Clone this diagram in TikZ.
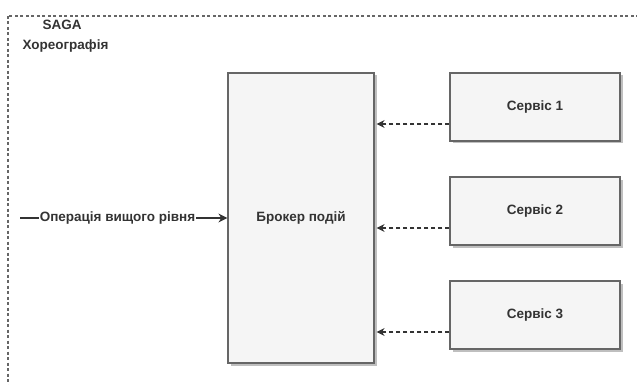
\documentclass[tikz,border=0pt]{standalone}
\usepackage{fontspec}
\setmainfont{Liberation Sans}
\usetikzlibrary{arrows.meta,shadows}

\definecolor{txtgray}{HTML}{333333}
\definecolor{boxfill}{HTML}{F5F5F5}
\definecolor{boxline}{HTML}{666666}

\tikzset{
  lbl/.style={font=\bfseries\fontsize{13.5}{16}\selectfont, text=txtgray},
  box/.style={draw=boxline, fill=boxfill, line width=1.2pt, inner sep=0pt,
    drop shadow={shadow xshift=2.5pt, shadow yshift=-2.5pt, fill=black!25, opacity=1}, lbl},
  evt/.style={draw=txtgray, line width=1.2pt, dash pattern=on 4pt off 3pt, -{Stealth[length=8pt,width=8pt]}},
}

\begin{document}
\begin{tikzpicture}[x=1pt, y=-1pt, line cap=butt]

  %% canvas
  \useasboundingbox (0,0) rectangle (637,385);
  \clip (0,0) rectangle (637,385);

  %% dashed frame of the saga
  \draw[boxline, line width=1.2pt, dash pattern=on 3pt off 2.5pt] (8,16) rectangle (660,400);
  \node[lbl, anchor=west] (saga) at (39,25) {SAGA};
  \node[lbl, anchor=west] (chor) at (19,46) {Хореографія};

  %% broker and services
  \node[box, minimum width=146pt, minimum height=290pt] (broker) at (301,218) {Брокер подій};
  \node[box, minimum width=170pt, minimum height=68pt] (srv1) at (535,107) {Сервіс 1};
  \node[box, minimum width=170pt, minimum height=68pt] (srv2) at (535,211) {Сервіс 2};
  \node[box, minimum width=170pt, minimum height=68pt] (srv3) at (535,315) {Сервіс 3};

  %% events
  \foreach \i/\yy in {1/124, 2/228, 3/332} {
    \coordinate (in\i) at ([xshift=2pt]broker.east |- 0,\yy);
    \draw[evt] (srv\i.west |- 0,\yy) -- (in\i);
  }

  %% top level operation
  \coordinate (opstart) at (20,218);
  \draw[txtgray, line width=1.5pt, -{Stealth[length=9pt,width=9pt]}] (opstart) -- (broker.west)
    node[lbl, pos=0.47, fill=white, inner sep=1pt] (op) {Операція вищого рівня};
\end{tikzpicture}
\end{document}
